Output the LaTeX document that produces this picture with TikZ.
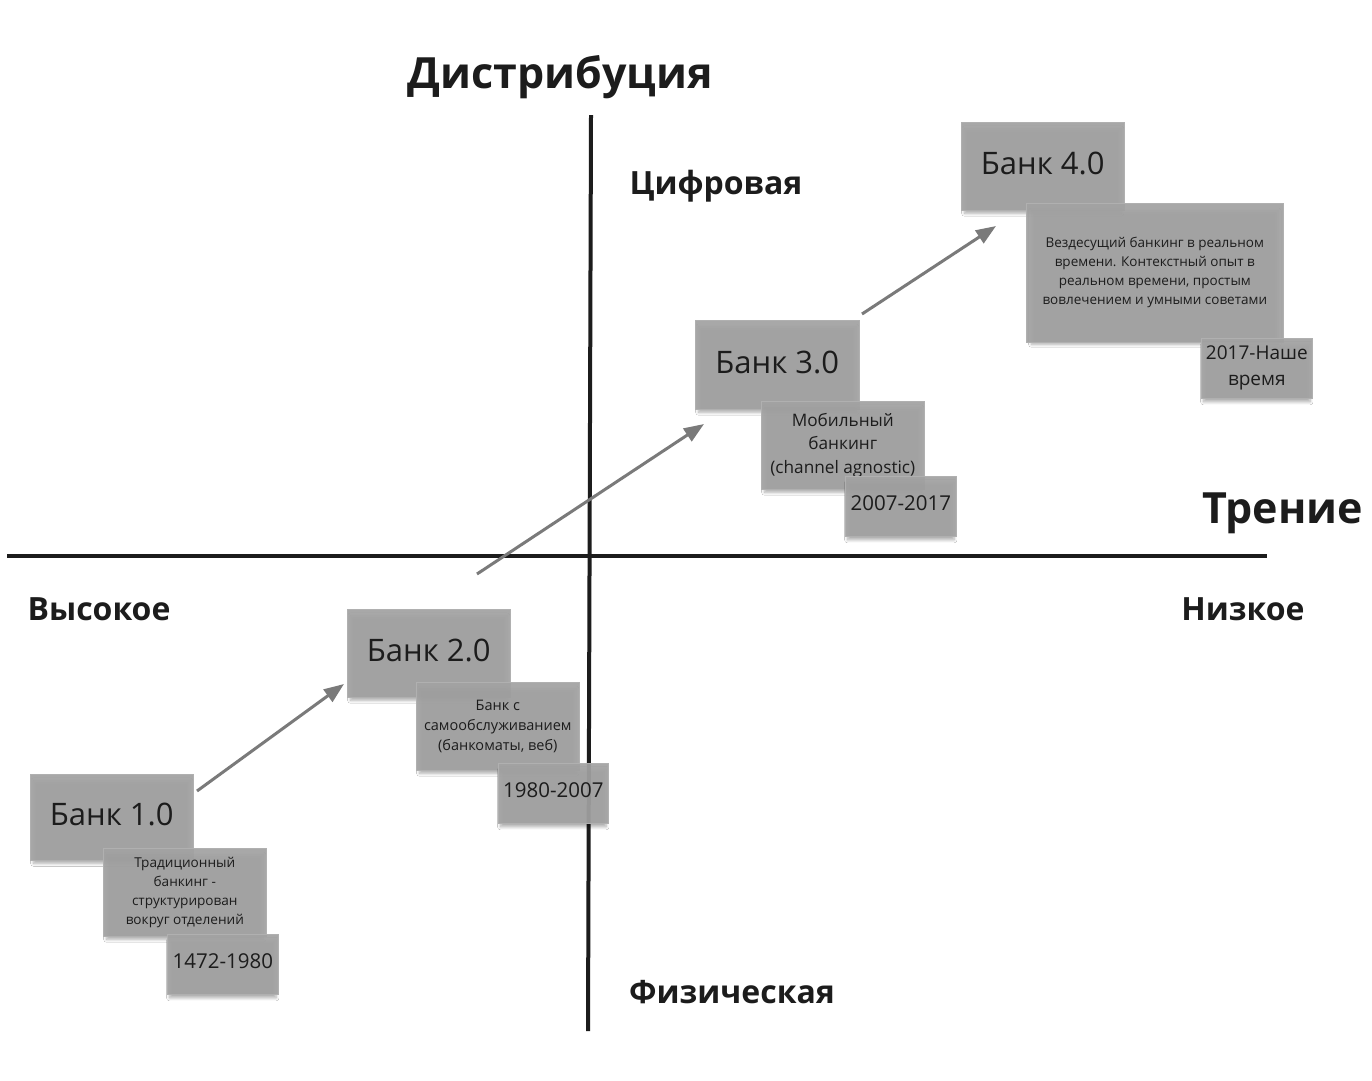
\documentclass[tikz,border=0pt]{standalone}
\usepackage{fontspec}
\setmainfont{Open Sans}
\usetikzlibrary{arrows.meta,shadows.blur}
\definecolor{cardgray}{HTML}{A2A2A2}
\definecolor{ink}{HTML}{1C1C1C}
\definecolor{arrowgray}{HTML}{7A7A7A}
\newcommand{\upby}[2]{\raisebox{#1}[\height][\depth]{#2}}
\begin{document}
\begin{tikzpicture}[x=1pt,y=-1pt,
  card/.style={fill=cardgray, fill opacity=0.93, text opacity=1, draw=cardgray!85!white, line width=0.6pt,
     anchor=north west, inner sep=0pt, align=center, text=ink,
     blur shadow={shadow xshift=0pt, shadow yshift=-5pt, shadow scale=0.96, shadow blur steps=8, shadow blur radius=3pt, shadow opacity=35}},
  axis/.style={line width=4pt, draw=ink},
  flow/.style={line width=3pt, draw=arrowgray, -{Triangle[length=20pt,width=15pt]}},
  axlabel/.style={text=ink, font=\bfseries\fontsize{32}{38}\selectfont, inner sep=0pt},
  bigtitle/.style={text=ink, font=\bfseries\fontsize{43}{50}\selectfont, inner sep=0pt},
  maintxt/.style={font=\fontsize{31}{36}\selectfont},
  datetxt/.style={font=\fontsize{20.5}{26}\selectfont},
]
\useasboundingbox (0,0) rectangle (1372,1080);
\fill[white] (0,0) rectangle (1372,1080);

% axes
\coordinate (hl) at (7,556);
\coordinate (hr) at (1267,556);
\coordinate (vt) at (591,115);
\coordinate (vb) at (588,1031);
\draw[axis] (hl) -- (hr);
\draw[axis] (vt) -- (vb);

% axis labels
\node[bigtitle] (dist) at (560,77) {Дистрибуция};
\node[axlabel] (digit) at (716,186) {Цифровая};
\node[axlabel] (phys) at (732,992) {Физическая};
\node[axlabel] (high) at (99,609) {Высокое};
\node[axlabel] (low) at (1243,609) {Низкое};
\node[bigtitle] (fric) at (1283,513) {Трение};

% Bank 1.0
\node[card, maintxt, minimum width=163pt, minimum height=86pt] (b1) at (30,774) {\upby{2.5pt}{Банк 1.0}};
\node[card, font=\fontsize{13.6}{19}\selectfont, minimum width=163pt, minimum height=88pt] (d1) at (103,848) {Традиционный\\банкинг -\\структурирован\\вокруг отделений};
\node[card, datetxt, minimum width=111pt, minimum height=60pt] (y1) at (167,934) {\upby{3pt}{1472-1980}};

% Bank 2.0
\node[card, maintxt, minimum width=163pt, minimum height=88pt] (b2) at (347,609) {\upby{2.5pt}{Банк 2.0}};
\node[card, font=\fontsize{14.5}{20}\selectfont, minimum width=163pt, minimum height=88pt] (d2) at (416,682) {Банк с\\самообслуживанием\\(банкоматы, веб)};
\node[card, datetxt, minimum width=110pt, minimum height=60pt] (y2) at (498,763) {\upby{3pt}{1980-2007}};

% Bank 3.0
\node[card, maintxt, minimum width=164pt, minimum height=89pt] (b3) at (695,320) {\upby{2.5pt}{Банк 3.0}};
\node[card, font=\fontsize{17.2}{23.5}\selectfont, minimum width=163pt, minimum height=88pt] (d3) at (761,401) {Мобильный\\банкинг\\(channel agnostic)};
\node[card, datetxt, minimum width=111pt, minimum height=60pt] (y3) at (845,476) {\upby{3pt}{2007-2017}};

% Bank 4.0
\node[card, maintxt, minimum width=163pt, minimum height=88pt] (b4) at (961,122) {\upby{2.5pt}{Банк 4.0}};
\node[card, font=\fontsize{13.5}{19}\selectfont, minimum width=257pt, minimum height=139pt] (d4) at (1026,203) {Вездесущий банкинг в реальном\\времени. Контекстный опыт в\\реальном времени, простым\\вовлечением и умными советами};
\node[card, font=\fontsize{19}{26}\selectfont, minimum width=111pt, minimum height=60pt] (y4) at (1201,338) {2017-Наше\\время};

% arrows
\coordinate (a1s) at (197,791);
\coordinate (a1e) at (344,684);
\coordinate (a2s) at (477,574);
\coordinate (a2e) at (704,424);
\coordinate (a3s) at (862,314);
\coordinate (a3e) at (996,226);
\draw[flow] (a1s) -- (a1e);
\draw[flow] (a2s) -- (a2e);
\draw[flow] (a3s) -- (a3e);
\end{tikzpicture}
\end{document}
